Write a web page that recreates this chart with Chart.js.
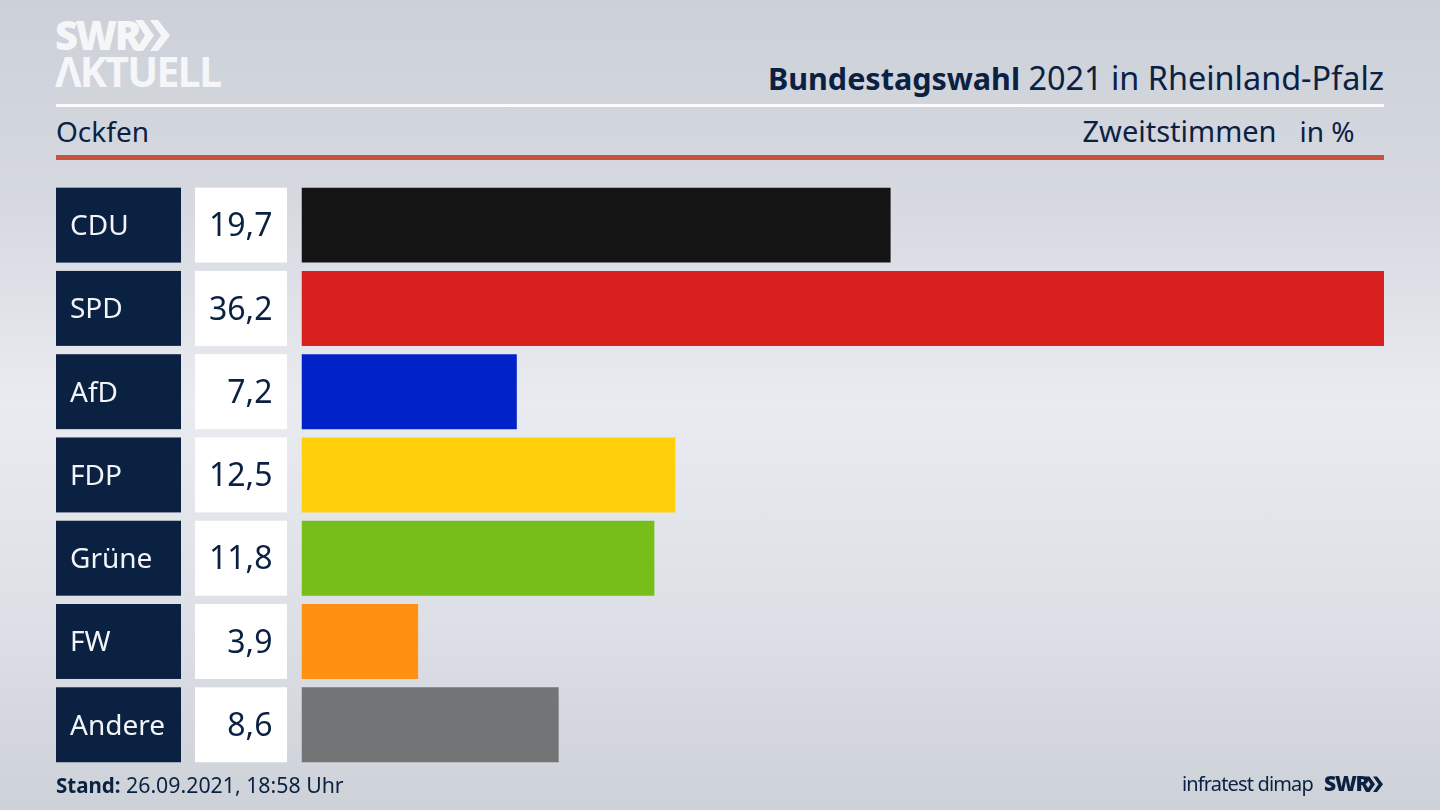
<!DOCTYPE html>
<html lang="de"><head><meta charset="utf-8">
<script src="https://cdn.jsdelivr.net/npm/chart.js@4"></script>
<style>
html,body{margin:0;padding:0;width:1440px;height:810px;overflow:hidden}
body{position:relative;background:linear-gradient(180deg,#ccd0d8 0%,#d6d9e0 25%,#e9ebf0 50%,#dcdfe5 78%,#cdd1d8 100%);font-family:"Noto Sans",sans-serif;color:#0b2142}
canvas{position:absolute;left:0;top:0}
.t{position:absolute;white-space:nowrap;line-height:1}
.logo{color:#f5f6f8;font-weight:800;font-family:"Open Sans","Noto Sans",sans-serif}
.rule{position:absolute;left:56px;width:1328px}
svg{position:absolute}
b.h{font-size:30.5px;font-weight:700}
</style></head><body>
<div class="t logo" id="l1" style="left:55px;top:15px;font-size:40px;letter-spacing:-2.500px">SWR</div>
<svg style="left:135px;top:19px" width="36" height="34" viewBox="0 0 36 34"><path d="M0 1h8l11 15.500-11 15.500h-8l10-15.500zM15 1h8l12 15.500-12 15.500h-8l11-15.500z" fill="#f5f6f8"/></svg>
<div class="t logo" id="l2" style="left:55px;top:51px;font-size:41px;font-weight:700;letter-spacing:-1.800px">ΛKTUELL</div>
<div class="t" id="title" style="right:56px;top:61px;font-size:32.400px"></div>
<div class="rule" style="top:104px;height:3px;background:#fbfbfc"></div>
<div class="t" id="place" style="left:56px;top:117px;font-size:28px"></div>
<div class="t" id="vote" style="left:1082.500px;top:116px;font-size:29px"></div>
<div class="t" id="unit" style="left:1299.500px;top:117px;font-size:28px"></div>
<div class="rule" style="top:155px;height:5px;background:#c9523d"></div>
<canvas id="c" width="1440" height="810"></canvas>
<div class="t" id="stand" style="left:56px;top:774px;font-size:21.300px"></div>
<div class="t" id="src" style="left:1182px;top:774px;font-size:20px;letter-spacing:-.85px"></div>
<div class="t" style="left:1324px;top:773px;font-size:21px;font-weight:800;font-family:'Open Sans','Noto Sans',sans-serif;letter-spacing:-1.200px">SWR</div>
<svg style="left:1365px;top:776px" width="19" height="17" viewBox="0 0 36 34"><path d="M0 1h8l11 15.500-11 15.500h-8l10-15.500zM15 1h8l12 15.500-12 15.500h-8l11-15.500z" fill="#0b2142"/></svg>
<script>
const categories = ["CDU","SPD","AfD","FDP","Grüne","FW","Andere"];
const values = [19.7,36.2,7.2,12.5,11.8,3.9,8.6];
const barColors = ["#141414","#d9201f","#0022c8","#ffcf0a","#78be1a","#ff9012","#737475"];
const titleBold = "Bundestagswahl";
const titleRest = " 2021 in Rheinland-Pfalz";
const placeName = "Ockfen";
const voteType = "Zweitstimmen";
const unitText = "in %";
const standLabel = "Stand:";
const standText = " 26.09.2021, 18:58 Uhr";
const sourceText = "infratest dimap";

const navy = "#0b2142";
document.getElementById("title").innerHTML = '<b class="h">'+titleBold+"</b>"+titleRest;
document.getElementById("place").textContent = placeName;
document.getElementById("vote").textContent = voteType;
document.getElementById("unit").textContent = unitText;
document.getElementById("stand").innerHTML = '<b style="font-size:20.500px">'+standLabel+"</b>"+standText;
document.getElementById("src").textContent = sourceText;

const rowBoxes = {
  id:"rowBoxes",
  beforeDraw(chart){
    const {ctx,scales:{y}} = chart;
    const meta = chart.getDatasetMeta(0);
    ctx.save();
    meta.data.forEach((bar,i)=>{
      const h = bar.height, top = y.getPixelForValue(i)-h/2;
      ctx.fillStyle = navy; ctx.fillRect(56,top,125,h);
      ctx.fillStyle = "#ffffff"; ctx.fillRect(195,top,92,h);
    });
    ctx.restore();
  },
  afterDatasetsDraw(chart){
    const {ctx,scales:{y}} = chart;
    ctx.save();
    ctx.textBaseline = "middle";
    ctx.fillStyle = navy;
    ctx.font = '32px "Noto Sans"';
    ctx.textAlign = "right";
    values.forEach((v,i)=>ctx.fillText(v.toFixed(1).replace(".",","),272.500,y.getPixelForValue(i)+2));
    ctx.fillStyle = "#f2f4f7";
    ctx.font = '28px "Noto Sans"';
    ctx.textAlign = "left";
    categories.forEach((c,i)=>ctx.fillText(c,70,y.getPixelForValue(i)+2));
    ctx.restore();
  }
};
new Chart(document.getElementById("c"),{
  type:"bar",
  data:{labels:categories,datasets:[{data:values,backgroundColor:barColors,borderWidth:0,barPercentage:0.9,categoryPercentage:1}]},
  options:{
    indexAxis:"y",responsive:false,animation:false,devicePixelRatio:1,
    layout:{padding:{left:70.500,right:56,top:183.500,bottom:43.600}},
    plugins:{legend:{display:false},tooltip:{enabled:false}},
    scales:{
      x:{display:false,min:0,max:36.2},
      y:{
        grid:{display:false},border:{display:false},
        afterFit(s){s.width=231;},
        ticks:{display:false}
      }
    }
  },
  plugins:[rowBoxes]
});
</script>
</body></html>
